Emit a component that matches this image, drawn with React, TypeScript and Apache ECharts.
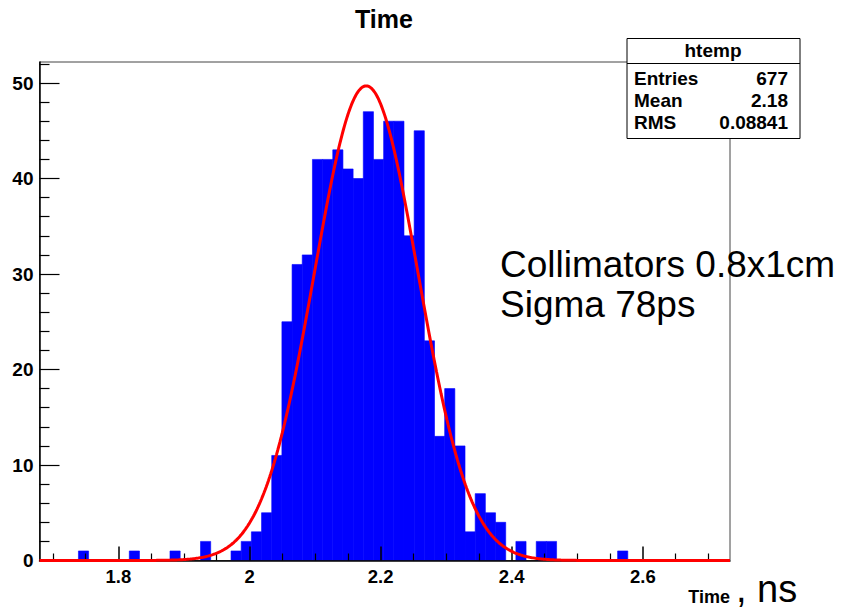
import React, { useEffect, useRef } from "react";
import * as echarts from "echarts";

// ---- data ----
const binStart = 1.739; // lower edge of first listed bin (ns)
const binWidth = 0.01552; // bin width (ns)
const counts = [
  1, 0, 0, 0, 0,
  1, 0, 0, 0,
  1, 0, 0,
  2, 0, 0,
  1, 2, 3, 5, 11, 25, 31, 32, 42, 42,
  43, 41, 40, 47, 42, 46, 46, 34, 45,
  23, 13, 18, 12, 3, 7, 5, 4, 0, 2, 0, 2, 2,
  0, 0, 0, 0, 0, 0,
  1,
];
const xMin = 1.6796;
const xMax = 2.733;
const yMin = 0;
const yMax = 52.2;
const xTickValues = [1.8, 2.0, 2.2, 2.4, 2.6];
const xMinorTickValues = [
  1.7, 1.75, 1.85, 1.9, 1.95, 2.05, 2.1, 2.15, 2.25, 2.3, 2.35, 2.45, 2.5, 2.55,
  2.65, 2.7,
];
const yTickValues = [0, 10, 20, 30, 40, 50];
const yMinorTickValues = [
  2, 4, 6, 8, 12, 14, 16, 18, 22, 24, 26, 28, 32, 34, 36, 38, 42, 44, 46, 48, 52,
];
// Gaussian fit parameters
const fitConstant = 49.7;
const fitMean = 2.178;
const fitSigma = 0.079;
const fitSamples = 600;

const statsTitle = "htemp";
const statsLabels = ["Entries", "Mean", "RMS"];
const statsValues = ["677", "2.18", "0.08841"];
const chartTitle = "Time";
const xAxisTitle = "Time";
const xAxisUnit = ", ns";
const annotationLines = ["Collimators 0.8x1cm", "Sigma 78ps"];

const FONT = "'Liberation Sans', Arial, Helvetica, sans-serif";

export default function App() {
  const ref = useRef<HTMLDivElement>(null);

  useEffect(() => {
    if (!ref.current) return;
    const chart = echarts.init(ref.current, null, { renderer: "svg" });

    const histData = counts
      .map((c, i) => [binStart + i * binWidth, binStart + (i + 1) * binWidth, c])
      .filter((d) => d[2] > 0);

    const fitData: number[][] = [];
    for (let i = 0; i <= fitSamples; i++) {
      const x = xMin + ((xMax - xMin) * i) / fitSamples;
      const z = (x - fitMean) / fitSigma;
      fitData.push([x, fitConstant * Math.exp(-0.5 * z * z)]);
    }

    const labelStyle = {
      color: "#000",
      fontFamily: FONT,
      fontWeight: "bold" as const,
      fontSize: 19,
    };

    const statsRowsY = [78, 100.5, 122.5];
    const graphics: any[] = [
      {
        type: "text",
        x: 384,
        y: 19,
        z: 100,
        style: {
          text: chartTitle,
          fill: "#000",
          font: `bold 25px ${FONT}`,
          align: "center",
          verticalAlign: "middle",
        },
      },
      {
        type: "rect",
        z: 100,
        shape: { x: 627, y: 38.5, width: 173, height: 100 },
        style: { fill: "#fff", stroke: "#000", lineWidth: 1 },
      },
      {
        type: "line",
        z: 101,
        shape: { x1: 627, y1: 63.5, x2: 800, y2: 63.5 },
        style: { stroke: "#000", lineWidth: 1 },
      },
      {
        type: "text",
        x: 713,
        y: 50.5,
        z: 101,
        style: {
          text: statsTitle,
          fill: "#000",
          font: `bold 19px ${FONT}`,
          align: "center",
          verticalAlign: "middle",
        },
      },
      ...statsLabels.map((t, i) => ({
        type: "text",
        x: 634,
        y: statsRowsY[i],
        z: 101,
        style: {
          text: t,
          fill: "#000",
          font: `bold 19px ${FONT}`,
          align: "left",
          verticalAlign: "middle",
        },
      })),
      ...statsValues.map((t, i) => ({
        type: "text",
        x: 788,
        y: statsRowsY[i],
        z: 101,
        style: {
          text: t,
          fill: "#000",
          font: `bold 19px ${FONT}`,
          align: "right",
          verticalAlign: "middle",
        },
      })),
      ...annotationLines.map((t, i) => ({
        type: "text",
        x: 500,
        y: 264 + i * 40,
        z: 100,
        style: {
          text: t,
          fill: "#000",
          font: `37px ${FONT}`,
          align: "left",
          verticalAlign: "middle",
        },
      })),
      {
        type: "text",
        x: 730,
        y: 597,
        z: 100,
        style: {
          text: xAxisTitle,
          fill: "#000",
          font: `bold 18px ${FONT}`,
          align: "right",
          verticalAlign: "middle",
        },
      },
      {
        type: "text",
        x: 736,
        y: 589,
        z: 100,
        style: {
          text: xAxisUnit,
          fill: "#000",
          font: `38px ${FONT}`,
          align: "left",
          verticalAlign: "middle",
        },
      },
    ];

    chart.setOption({
      animation: false,
      backgroundColor: "#fff",
      grid: {
        left: 39.5,
        top: 62,
        width: 690.5,
        height: 498.5,
        show: true,
        borderColor: "#444",
        borderWidth: 1,
        backgroundColor: "transparent",
      },
      xAxis: [
        {
          type: "value",
          min: xMin,
          max: xMax,
          position: "bottom",
          z: 5,
          axisLine: { show: true, lineStyle: { color: "#000", width: 1.5 } },
          axisTick: {
            show: true,
            inside: true,
            length: 14,
            customValues: xTickValues,
            lineStyle: { color: "#000", width: 1.5 },
          },
          axisLabel: {
            ...labelStyle,
            fontSize: 18.5,
            margin: 6,
            customValues: xTickValues,
            formatter: (v: number) => String(Math.round(v * 10) / 10),
          },
          splitLine: { show: false },
        },
        {
          type: "value",
          min: xMin,
          max: xMax,
          position: "bottom",
          z: 5,
          axisLine: { show: false },
          axisTick: {
            show: true,
            inside: true,
            length: 7,
            customValues: xMinorTickValues,
            lineStyle: { color: "#000", width: 1.2 },
          },
          axisLabel: { show: false },
          splitLine: { show: false },
        },
      ],
      yAxis: [
        {
          type: "value",
          min: yMin,
          max: yMax,
          position: "left",
          z: 5,
          axisLine: { show: true, lineStyle: { color: "#000", width: 1.5 } },
          axisTick: {
            show: true,
            inside: true,
            length: 20,
            customValues: yTickValues,
            lineStyle: { color: "#000", width: 1.2 },
          },
          axisLabel: {
            ...labelStyle,
            margin: 6,
            customValues: yTickValues,
          },
          splitLine: { show: false },
        },
        {
          type: "value",
          min: yMin,
          max: yMax,
          position: "left",
          z: 5,
          axisLine: { show: false },
          axisTick: {
            show: true,
            inside: true,
            length: 10,
            customValues: yMinorTickValues,
            lineStyle: { color: "#000", width: 1.2 },
          },
          axisLabel: { show: false },
          splitLine: { show: false },
        },
      ],
      series: [
        {
          type: "custom",
          xAxisIndex: 0,
          yAxisIndex: 0,
          z: 2,
          clip: true,
          encode: { x: [0, 1], y: 2 },
          data: histData,
          renderItem: (_params: any, api: any) => {
            const p0 = api.coord([api.value(0), api.value(2)]);
            const p1 = api.coord([api.value(1), 0]);
            return {
              type: "rect",
              shape: {
                x: p0[0],
                y: p0[1],
                width: p1[0] - p0[0],
                height: p1[1] - p0[1],
              },
              style: { fill: "#0000ff", stroke: "#0000ff", lineWidth: 0.6 },
            };
          },
        },
        {
          type: "line",
          xAxisIndex: 0,
          yAxisIndex: 0,
          z: 10,
          data: fitData,
          showSymbol: false,
          symbol: "none",
          silent: true,
          clip: true,
          lineStyle: { color: "#ff0000", width: 3 },
        },
      ],
      graphic: graphics,
    });

    return () => chart.dispose();
  }, []);

  return (
    <div
      ref={ref}
      style={{
        position: "fixed",
        left: 0,
        top: 0,
        width: 841,
        height: 612,
        background: "#fff",
      }}
    />
  );
}
